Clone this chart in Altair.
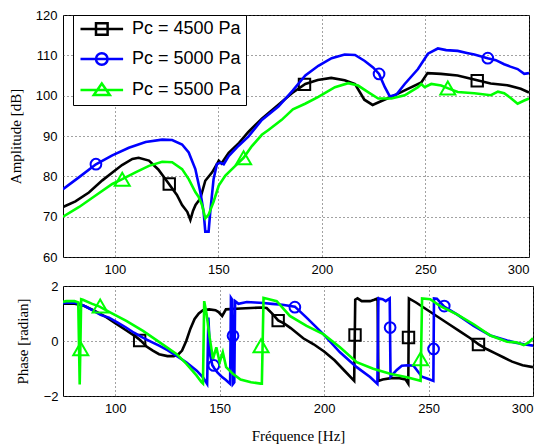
import altair as alt
import pandas as pd

LABELS = ["Pc = 4500 Pa", "Pc = 5000 Pa", "Pc = 5500 Pa"]
COLORS = ["#000000", "#0000ff", "#00ff00"]
MARKERS = ["square", "circle", "triangle-up"]
MARKER_SIZES = [130, 115, 225]

X_TICKS = [100, 150, 200, 250, 300]
AMP_TICKS = [60, 70, 80, 90, 100, 110, 120]
PH_TICKS = [-2, 0, 2]

# ---------------- Amplitude (dB) ----------------
BLACK_F_AMP = [75, 81, 87.5, 94, 99, 103.5, 108.5, 111.5, 116.5, 121, 126, 130, 132.5, 135, 136.5,
               137.8, 139, 141.3, 143.7, 147, 149.3, 150.2, 151.5, 155, 160, 164.5, 171, 178, 185.5,
               192, 198, 204.5, 211, 216, 220.5, 224.5, 228.5, 233.5, 241.5, 248, 251, 257.5, 265.5,
               275, 281.5, 289.5, 296, 300]
BLACK_AMP = [72.4, 73.8, 76.0, 79.0, 81.0, 82.8, 84.3, 84.6, 83.9, 81.7, 78.2, 75.4, 72.9, 71.2, 69.2,
             71.5, 72.9, 74.5, 78.9, 81.0, 83.0, 83.9, 83.2, 85.8, 88.3, 91.0, 94.3, 97.3, 100.6,
             102.9, 103.9, 104.4, 103.8, 102.9, 99.0, 97.7, 98.6, 99.7, 101.7, 103.3, 105.6, 105.4, 105.0,
             103.8, 103.0, 102.6, 101.7, 100.8]

BLUE_F_AMP = [75, 82.8, 90.9, 98.8, 106.8, 114.9, 122.9, 127.7, 132.5, 135.7, 138.9, 141.3, 142.9, 143.7,
              145.3, 146.1, 147.7, 149.3, 150.9, 152.6, 155, 159.8, 164.6, 171, 179, 186, 192, 198.3,
              204.7, 211, 216, 220.7, 224.7, 227.6, 230.4, 232.8, 236, 240, 246.4, 251.2, 256, 260,
              265.6, 270, 273.6, 280, 284, 288, 291, 294.5, 297.7, 300]
BLUE_AMP = [76.8, 79.8, 83.0, 85.2, 87.1, 88.5, 89.1, 89.0, 87.9, 85.9, 81.8, 76.1, 71.2, 66.3,
            66.3, 71.2, 79.3, 83.0, 83.4, 83.0, 85.0, 87.6, 89.9, 94.0, 97.3, 101.3, 105.0, 107.4,
            109.3, 110.2, 110.1, 108.6, 107.0, 105.4, 102.1, 99.8, 100.3, 102.9, 106.6, 110.4, 111.7, 111.3,
            111.1, 110.6, 110.2, 109.3, 108.8, 107.8, 107.2, 106.6, 105.4, 105.6]

GREEN_F_AMP = [75, 82.8, 90.9, 98.8, 103.6, 110, 116.5, 122.9, 127.7, 132.5, 135.7, 138.9, 140.5, 142.1,
               143.7, 145.3, 147.7, 150.2, 153.4, 158.2, 162.2, 166.2, 171, 174.2, 180.6, 186, 191.9,
               198.3, 206.3, 212.7, 217.5, 222.3, 227.2, 233.6, 240, 246.4, 248, 249.6, 252.8, 257.6,
               261, 265.6, 273.6, 281.6, 285, 288, 291, 294.5, 297.7, 300]
GREEN_AMP = [70.0, 72.4, 75.3, 78.1, 79.3, 81.0, 82.6, 83.6, 83.5, 81.8, 79.3, 76.1, 74.9, 72.9,
             69.6, 70.5, 73.7, 77.7, 80.2, 82.6, 84.6, 87.5, 90.3, 91.5, 94.0, 96.6, 98.0,
             99.7, 102.1, 103.1, 102.5, 100.9, 99.3, 99.3, 100.1, 102.1, 102.9, 102.1, 102.9, 102.5,
             101.8, 100.9, 100.6, 100.1, 101.0, 100.6, 99.5, 98.0, 98.8, 99.3]

BLACK_MK_F_AMP = [126.3, 191.6, 275.0]
BLACK_MK_AMP = [78.1, 102.8, 103.7]
BLUE_MK_F_AMP = [90.9, 227.6, 280.1]
BLUE_MK_AMP = [83.0, 105.4, 109.3]
GREEN_MK_F_AMP = [103.6, 162.2, 260.8]
GREEN_MK_AMP = [79.3, 84.6, 101.9]

# ---------------- Phase (radian) ----------------
BLACK_F_PH = [75, 80, 85, 90, 95, 100, 105, 110, 112, 115, 118, 121, 125, 128, 130, 132, 134, 136, 138,
              140, 142, 145, 148, 149.5, 151.2, 153, 160, 165, 170, 172.5, 175.5, 178, 181, 184, 190,
              195, 200, 205, 210, 214.4, 214.9, 216, 218, 222, 224, 225.6, 226, 228, 232, 236, 239,
              240.3, 240.6, 244, 248, 252, 256, 260, 265, 270, 274, 278, 282, 286, 290, 295, 300]
BLACK_PH = [1.36, 1.36, 1.28, 1.1, 0.9, 0.65, 0.4, 0.15, 0.03, -0.2, -0.35, -0.48, -0.55, -0.55, -0.5,
            -0.35, 0.0, 0.45, 0.8, 1.0, 1.12, 1.15, 1.12, 1.05, 0.91, 1.15, 1.18, 1.2, 1.22, 1.2, 0.97,
            0.75, 0.63, 0.47, 0.1, -0.12, -0.38, -0.7, -1.1, -1.45, 1.5, 1.55, 1.45, 1.45, 1.5, 1.55,
            -1.45, -1.4, -1.35, -1.35, -1.4, -1.55, 1.55, 1.4, 1.2, 1.0, 0.8, 0.6, 0.35, 0.1, -0.12,
            -0.3, -0.45, -0.6, -0.75, -0.88, -0.95]

BLUE_F_PH = [75, 80, 83, 86, 89, 93, 97, 101, 105, 109, 113, 117, 121, 125, 129, 134, 139, 142, 144,
             144.6, 145.4, 146.5, 147.5, 149, 151, 153, 155, 155.4, 156.0, 156.4, 157.0, 157.4, 159,
             163, 167, 171, 175, 180, 186, 191.6, 199.6, 207.6, 215.6, 222, 225.5, 226, 228, 229.5,
             231.4, 231.8, 234.8, 237.2, 240, 242.8, 246.8, 250, 252.3, 252.6, 254, 257.5, 263.6,
             271.6, 279.6, 287.6, 291, 295.6, 300]
BLUE_PH = [1.38, 1.4, 1.35, 1.25, 1.12, 0.95, 0.85, 0.68, 0.5, 0.3, 0.13, -0.02, -0.17, -0.33, -0.52,
           -0.77, -1.08, -1.32, -1.56, 0.85, -0.5, -0.88, -1.0, -1.15, -1.3, -1.42, -1.56, 1.57, 1.5,
           -1.56, -1.5, 1.45, 1.35, 1.42, 1.4, 1.38, 1.35, 1.32, 1.25, 0.85, 0.25, -0.41, -0.95, -1.31,
           -1.56, 1.55, 1.52, 1.45, 1.55, -1.3, -1.05, -0.9, -0.88, -0.9, -1.3, -1.38, -1.45, 1.55,
           1.54, 1.25, 0.97, 0.55, 0.2, 0.02, -0.05, -0.12, -0.17]

GREEN_F_PH = [75, 76.5, 80.5, 82.3, 83.0, 83.7, 84.5, 89, 92.5, 97.3, 105.3, 113.3, 121.3, 129.3, 134.1,
              138.9, 141.3, 142.0, 142.6, 143.7, 145.2, 146.8, 148.4, 150, 151.5, 153.1, 156.3, 160,
              165, 169.6, 170.2, 171, 177.3, 183.6, 191.6, 199.6, 207.6, 215.6, 223.5, 231.6, 239.6,
              246.2, 246.9, 250.8, 255.6, 263.6, 271.6, 279.6, 287.6, 292, 295.6, 298, 300]
GREEN_PH = [1.42, 1.45, 1.45, 1.4, -1.58, 1.52, 1.5, 1.35, 1.25, 1.05, 0.73, 0.37, -0.05, -0.47, -0.83,
            -1.25, -1.5, -1.55, 1.45, 1.0, 0.13, -0.65, -0.23, -0.77, -0.41, -0.95, -1.19, -1.4,
            -1.5, -1.55, -1.55, 1.57, 1.45, 0.91, 0.55, 0.25, -0.23, -0.77, -1.01, -1.19, -1.32,
            -1.45, 1.55, 1.52, 1.27, 0.97, 0.61, 0.2, -0.03, -0.05, -0.15, -0.05, 0.1]

BLACK_MK_F_PH = [111.7, 178.0, 214.8, 240.4, 273.9]
BLACK_MK_PH = [0.02, 0.74, 0.22, 0.13, -0.13]
BLUE_MK_F_PH = [147.2, 156.4, 186.0, 231.6, 252.4, 257.5]
BLUE_MK_PH = [-0.89, 0.19, 1.23, 0.49, -0.29, 1.27]
GREEN_MK_F_PH = [83.5, 92.8, 169.8, 246.2]
GREEN_MK_PH = [-0.28, 1.27, -0.17, -0.65]

# ---------------- styling ----------------
SANS = "Liberation Sans"
SERIF = "Liberation Serif"

# legend symbols: line + marker, drawn as custom paths (unit square coordinates)
C = 2.96
LEG_LINE = f"M{C-4.26:.2f},0H{C+4.26:.2f}"
LEG_PATHS = [
    f"{LEG_LINE}M{C-1.16:.2f},-1.16H{C+1.16:.2f}V1.16H{C-1.16:.2f}Z",
    f"{LEG_LINE}M{C+1.16:.2f},0A1.16,1.16,0,1,1,{C-1.16:.2f},0A1.16,1.16,0,1,1,{C+1.16:.2f},0Z",
    f"{LEG_LINE}M{C:.2f},-1.3L{C+1.6:.2f},1.0L{C-1.6:.2f},1.0Z",
]

X_DOMAIN = [75, 300]


def panel(series, markers, y_domain, y_ticks, y_title, title_pad, label_pad, x_title=None):
    layers = []
    for (fs, vs), (mf, mv), color, shape, msize in zip(series, markers, COLORS, MARKERS, MARKER_SIZES):
        df = pd.DataFrame({"f": fs, "v": vs})
        y = alt.Y("v:Q", scale=alt.Scale(domain=y_domain, nice=False, zero=False),
                  axis=alt.Axis(values=y_ticks, title=y_title, titlePadding=title_pad,
                                labelPadding=label_pad))
        if x_title:
            xax = alt.Axis(values=X_TICKS, title=x_title, labelPadding=6, titlePadding=13)
        else:
            xax = alt.Axis(values=X_TICKS, title=None, labelPadding=6)
        xe = alt.X("f:Q", scale=alt.Scale(domain=X_DOMAIN, nice=False, zero=False), axis=xax)
        layers.append(alt.Chart(df).mark_line(strokeWidth=2.6, clip=True).encode(
            x=xe, y=y, color=alt.value(color)))
        mdf = pd.DataFrame({"f": mf, "v": mv})
        layers.append(alt.Chart(mdf).mark_point(filled=False, strokeWidth=2, opacity=1, clip=True).encode(
            x="f:Q", y="v:Q", shape=alt.value(shape), size=alt.value(msize), color=alt.value(color)))
    return layers


top_series = [(BLACK_F_AMP, BLACK_AMP), (BLUE_F_AMP, BLUE_AMP), (GREEN_F_AMP, GREEN_AMP)]
top_markers = [(BLACK_MK_F_AMP, BLACK_MK_AMP), (BLUE_MK_F_AMP, BLUE_MK_AMP), (GREEN_MK_F_AMP, GREEN_MK_AMP)]
bot_series = [(BLACK_F_PH, BLACK_PH), (BLUE_F_PH, BLUE_PH), (GREEN_F_PH, GREEN_PH)]
bot_markers = [(BLACK_MK_F_PH, BLACK_MK_PH), (BLUE_MK_F_PH, BLUE_MK_PH), (GREEN_MK_F_PH, GREEN_MK_PH)]

top_layers = panel(top_series, top_markers, [60, 120], AMP_TICKS, "Amplitude [dB]", 11.5, 6)

legend_kw = dict(
    title=None, orient="none", legendX=10, legendY=0, padding=5, rowPadding=8,
    labelFont=SANS, labelFontSize=18, labelColor="black", labelOffset=36,
    symbolSize=100, symbolStrokeWidth=2.5, symbolFillColor="transparent",
    strokeColor="black", fillColor="white", cornerRadius=0,
)
leg_df = pd.DataFrame({"series": LABELS})
legend_layer = alt.Chart(leg_df).mark_point(filled=False, opacity=1).encode(
    color=alt.Color("series:N", scale=alt.Scale(domain=LABELS, range=COLORS),
                    legend=alt.Legend(**legend_kw)),
    shape=alt.Shape("series:N", scale=alt.Scale(domain=LABELS, range=LEG_PATHS),
                    legend=alt.Legend(**legend_kw)),
).transform_filter("false")

top = alt.layer(*top_layers, legend_layer).properties(width=466, height=242)

bot_layers = panel(bot_series, bot_markers, [-2, 2], PH_TICKS, "Phase [radian]", 12.5, 5,
                   x_title="Fréquence [Hz]")
bottom = alt.layer(*bot_layers).properties(width=470, height=110)

chart = alt.vconcat(top, bottom, spacing=29, bounds="flush").properties(
    padding={"left": 0, "top": 0, "right": 0, "bottom": 0}
).configure_view(stroke="black", strokeWidth=1).configure_axis(
    labelFont=SANS, labelFontSize=13, labelColor="black",
    titleFont=SERIF, titleFontSize=15, titleFontWeight="normal", titleColor="black",
    grid=True, gridColor="#444444", gridDash=[1, 3], gridWidth=1, gridOpacity=1,
    domain=False, ticks=False,
)

chart.save("out.html", embed_options={"renderer": "svg", "actions": False})
